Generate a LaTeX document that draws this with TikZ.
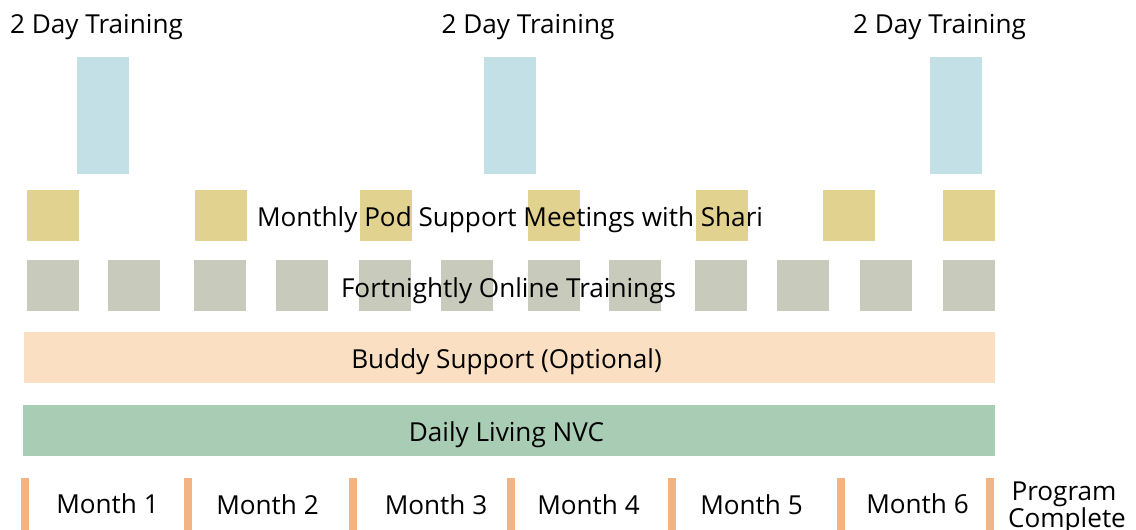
\documentclass[tikz,border=0pt]{standalone}
\usepackage{fontspec}
\setmainfont{Open Sans}
\usepackage{tikz}
\definecolor{twoday}{RGB}{195,224,231}
\definecolor{podgold}{RGB}{226,210,143}
\definecolor{onlinegrey}{RGB}{200,202,187}
\definecolor{buddypeach}{RGB}{250,223,194}
\definecolor{dailygreen}{RGB}{169,205,180}
\definecolor{monthtick}{RGB}{242,180,130}
\tikzset{
  lbl/.style={anchor=base,inner sep=0pt,font=\fontsize{19.6}{23}\selectfont}
}

\begin{document}
\begin{tikzpicture}[x=0.75pt,y=-0.75pt]
			\useasboundingbox (0,0) rectangle (1136,530);
			
			% 2 day trainings
			\foreach \x in {77,484,930}
				\fill [twoday] (\x,57) rectangle ++(52,117);
			\node[lbl] (train1) at (96.5,34) {2 Day Training};
			\node[lbl] (train2) at (528,34) {2 Day Training};
			\node[lbl] (train3) at (939.5,34) {2 Day Training};
			
			% monthly pods
			\foreach \x in {27,195,360,528,696,823,943}
				\fill [podgold] (\x,190) rectangle ++(52,51);
			\node[lbl] (pod) at (510,226.5) {Monthly Pod Support Meetings with Shari};
			
			% fortnightly
			\foreach \x in {27,108,194,276,359,441,528,609,695,777,860,943}
				\fill [onlinegrey] (\x,260) rectangle ++(52,51);
			\node[lbl] (online) at (508.5,297.5) {Fortnightly Online Trainings};
			
			% bars
			\fill [buddypeach] (24,332) rectangle (995,383);
			\node[lbl] (buddy) at (506.5,368.5) {Buddy Support (Optional)};
			\fill [dailygreen] (23,405) rectangle (995,456);
			\node[lbl] (daily) at (506.5,441.5) {Daily Living NVC};
			
			% months
			\foreach \x in {21,184,349,507,668,837,986}
				\fill [monthtick] (\x,478) rectangle ++(8,52);
			\node[lbl] (m1) at (107.5,514) {Month 1};
			\node[lbl] (m2) at (267.5,515) {Month 2};
			\node[lbl] (m3) at (436,515) {Month 3};
			\node[lbl] (m4) at (588.5,515) {Month 4};
			\node[lbl] (m5) at (751.5,515) {Month 5};
			\node[lbl] (m6) at (917.5,514) {Month 6};
			\node[lbl] (prog) at (1064,501) {Program};
			\node[lbl] (compl) at (1067,528) {Complete};
		\end{tikzpicture}
\end{document}
